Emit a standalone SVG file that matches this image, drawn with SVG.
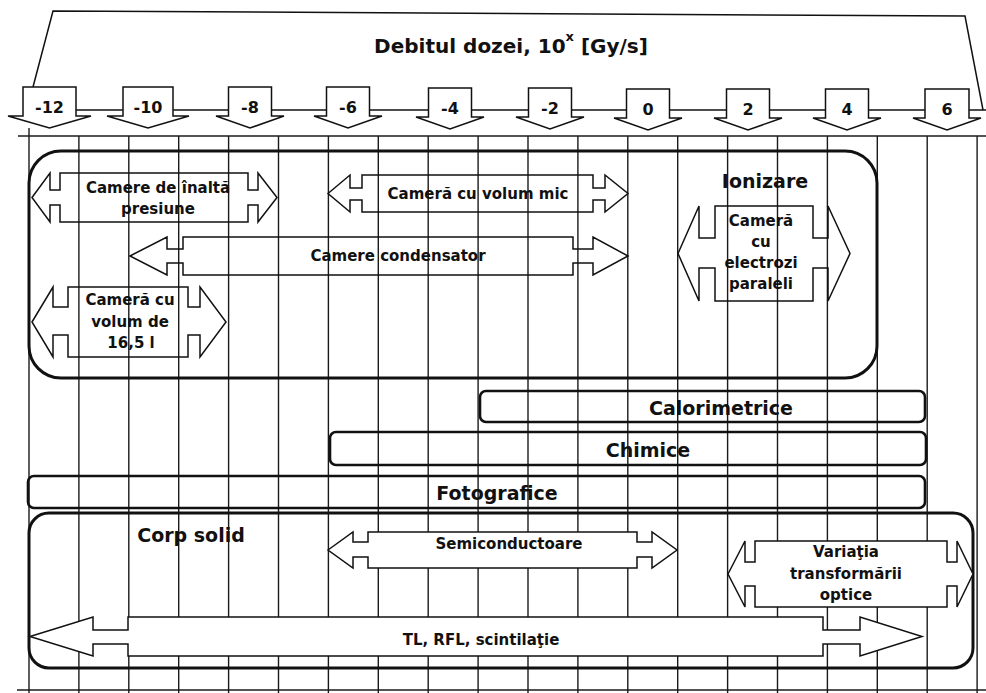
<svg xmlns="http://www.w3.org/2000/svg" width="986" height="693" viewBox="0 0 986 693">
  <style>
    text { font-family: "DejaVu Sans", Verdana, sans-serif; font-weight: bold; fill: #111; text-anchor: middle; }
    .tick { font-size: 16px; }
    .lbl { font-size: 15px; }
    .big { font-size: 19px; }
    .title { font-size: 20px; }
    .grid line { stroke: #1a1a1a; stroke-width: 1.4; }
    .frame { fill: none; stroke: #111; stroke-width: 1.5; }
    .box { fill: none; stroke: #111; stroke-width: 3; }
    .bar { fill: none; stroke: #111; stroke-width: 2.6; }
    .dart { fill: none; stroke: #111; stroke-width: 1.5; stroke-linejoin: miter; }
    .dart.solid { fill: #fff; }
    .down { fill: #fff; stroke: #111; stroke-width: 1.5; }
  </style>

  <rect width="986" height="693" fill="#fff"/>

  <!-- scale grid: one column per unit of the exponent -->
  <g id="grid" class="grid">
    <line x1="18" y1="136" x2="986" y2="136"/>
    <line x1="17" y1="690" x2="986" y2="690"/>
    <line x1="29" y1="128" x2="29" y2="693"/>
    <line x1="78.9" y1="136" x2="78.9" y2="693"/>
    <line x1="128.8" y1="136" x2="128.8" y2="693"/>
    <line x1="178.7" y1="136" x2="178.7" y2="693"/>
    <line x1="228.6" y1="136" x2="228.6" y2="693"/>
    <line x1="278.5" y1="136" x2="278.5" y2="693"/>
    <line x1="328.4" y1="136" x2="328.4" y2="693"/>
    <line x1="378.3" y1="136" x2="378.3" y2="693"/>
    <line x1="428.2" y1="136" x2="428.2" y2="693"/>
    <line x1="478.1" y1="136" x2="478.1" y2="693"/>
    <line x1="528" y1="136" x2="528" y2="693"/>
    <line x1="577.9" y1="136" x2="577.9" y2="693"/>
    <line x1="627.8" y1="136" x2="627.8" y2="693"/>
    <line x1="677.7" y1="136" x2="677.7" y2="693"/>
    <line x1="727.6" y1="136" x2="727.6" y2="693"/>
    <line x1="777.5" y1="136" x2="777.5" y2="693"/>
    <line x1="827.4" y1="136" x2="827.4" y2="693"/>
    <line x1="877.3" y1="136" x2="877.3" y2="693"/>
    <line x1="927.2" y1="136" x2="927.2" y2="693"/>
    <line x1="977.1" y1="136" x2="977.1" y2="693"/>
  </g>

  <!-- header: title frame and tick rail -->
  <g id="header">
    <polyline class="frame" points="33,87 53,11 965,16 983,110"/>
    <text class="title" x="511" y="53">Debitul dozei, 10<tspan font-size="13" dy="-12">x</tspan><tspan dy="12"> [Gy/s]</tspan></text>
  </g>

  <g id="connectors">
    <line class="frame" x1="23" y1="110" x2="986" y2="110"/>
  </g>

  <!-- tick markers -->
  <g id="tick-m12"><path class="down" d="M23,87 H76 V116 H91 L49.5,128 L8,116 H23 Z"/><text class="tick" x="49.5" y="113">-12</text></g>
  <g id="tick-m10"><path class="down" d="M123,87 H173 V116 H189 L148,128 L107,116 H123 Z"/><text class="tick" x="148" y="113">-10</text></g>
  <g id="tick-m8"><path class="down" d="M228.5,87 H271.5 V116 H284 L250,128 L216,116 H228.5 Z"/><text class="tick" x="250" y="113">-8</text></g>
  <g id="tick-m6"><path class="down" d="M326.5,87 H369.5 V116 H382 L348,128 L314,116 H326.5 Z"/><text class="tick" x="348" y="113">-6</text></g>
  <g id="tick-m4"><path class="down" d="M428.5,88 H471.5 V117 H484 L450,129 L416,117 H428.5 Z"/><text class="tick" x="450" y="114">-4</text></g>
  <g id="tick-m2"><path class="down" d="M528.5,88 H571.5 V117 H584 L550,129 L516,117 H528.5 Z"/><text class="tick" x="550" y="114">-2</text></g>
  <g id="tick-0"><path class="down" d="M626.5,89 H669.5 V118 H682 L648,130 L614,118 H626.5 Z"/><text class="tick" x="648" y="115">0</text></g>
  <g id="tick-2"><path class="down" d="M726.5,89 H769.5 V118 H782 L748,130 L714,118 H726.5 Z"/><text class="tick" x="748" y="115">2</text></g>
  <g id="tick-4"><path class="down" d="M825.5,89 H868.5 V118 H881 L847,130 L813,118 H825.5 Z"/><text class="tick" x="847" y="115">4</text></g>
  <g id="tick-6"><path class="down" d="M925,89 H969 V118 H981 L947,130 L913,118 H925 Z"/><text class="tick" x="947" y="115">6</text></g>

  <!-- ionisation chambers -->
  <g id="ionizare">
    <rect class="box" x="29" y="151" width="848" height="227" rx="32"/>
    <text class="big" x="765" y="188">Ionizare</text>
  </g>
  <g id="camere-inalta-presiune">
    <polygon class="dart" points="32,197.5 50,173 50,190 60,190 60,173 248,173 248,190 258,190 258,173 277,197.5 258,222 258,205 248,205 248,222 60,222 60,205 50,205 50,222"/>
    <text class="lbl" x="158" y="193">Camere de înaltă</text>
    <text class="lbl" x="158" y="214">presiune</text>
  </g>
  <g id="camera-volum-mic">
    <polygon class="dart" points="328,193.5 350,175 350,188 362,188 362,175 593,175 593,188 605,188 605,175 628,193.5 605,212 605,200 593,200 593,212 362,212 362,200 350,200 350,212"/>
    <text class="lbl" x="478" y="199">Cameră cu volum mic</text>
  </g>
  <g id="camere-condensator">
    <polygon class="dart" points="130,256 167,237 167,249 183,249 183,237 573,237 573,249 593,249 593,237 628,256 593,275 593,263 573,263 573,275 183,275 183,263 167,263 167,275"/>
    <text class="lbl" x="398" y="261">Camere condensator</text>
  </g>
  <g id="camera-16-5">
    <polygon class="dart" points="32,322 53,287 53,307 68,307 68,287 188,287 188,307 200,307 200,287 226,322 200,357 200,335 188,335 188,357 68,357 68,335 53,335 53,357"/>
    <text class="lbl" x="130" y="305">Cameră cu</text>
    <text class="lbl" x="130" y="327">volum de</text>
    <text class="lbl" x="131" y="348">16,5 l</text>
  </g>
  <g id="camera-electrozi-paraleli">
    <polygon class="dart" points="678,253.5 699,206 699,238 715,238 715,206 813,206 813,238 828,238 828,206 850,253.5 828,301 828,268 813,268 813,301 715,301 715,268 699,268 699,301"/>
    <text class="lbl" x="761" y="226">Cameră</text>
    <text class="lbl" x="761" y="247">cu</text>
    <text class="lbl" x="761" y="268">electrozi</text>
    <text class="lbl" x="761" y="289">paraleli</text>
  </g>

  <!-- other dosimeter families -->
  <g id="calorimetrice">
    <rect class="bar" x="480" y="391" width="445" height="31" rx="6"/>
    <text class="big" x="721" y="415">Calorimetrice</text>
  </g>
  <g id="chimice">
    <rect class="bar" x="330" y="432" width="596" height="33" rx="6"/>
    <text class="big" x="648" y="457">Chimice</text>
  </g>
  <g id="fotografice">
    <rect class="bar" x="28" y="476" width="897" height="32" rx="6"/>
    <text class="big" x="497" y="500">Fotografice</text>
  </g>

  <!-- solid state -->
  <g id="corp-solid">
    <rect class="box" x="29" y="513" width="944" height="155" rx="20"/>
    <text class="big" x="191" y="542">Corp solid</text>
  </g>
  <g id="semiconductoare">
    <polygon class="dart solid" points="328,550 353,532 353,542 368,542 368,532 637,532 637,542 652,542 652,532 677,550 652,568 652,557 637,557 637,568 368,568 368,557 353,557 353,568"/>
    <text class="lbl" x="509" y="549">Semiconductoare</text>
  </g>
  <g id="variatia-transformarii-optice">
    <polygon class="dart solid" points="728,574 745,541 745,562 755,562 755,541 947,541 947,562 957,562 957,541 973,574 957,607 957,586 947,586 947,607 755,607 755,586 745,586 745,607"/>
    <text class="lbl" x="846" y="557">Variaţia</text>
    <text class="lbl" x="846" y="579">transformării</text>
    <text class="lbl" x="846" y="600">optice</text>
  </g>
  <g id="tl-rfl-scintilatie">
    <polygon class="dart solid" points="30,636.5 93,617 93,630 128,630 128,617 823,617 823,630 860,630 860,617 922,636.5 860,656 860,644 823,644 823,656 128,656 128,644 93,644 93,656"/>
    <text class="lbl" x="481" y="645">TL, RFL, scintilaţie</text>
  </g>
</svg>
